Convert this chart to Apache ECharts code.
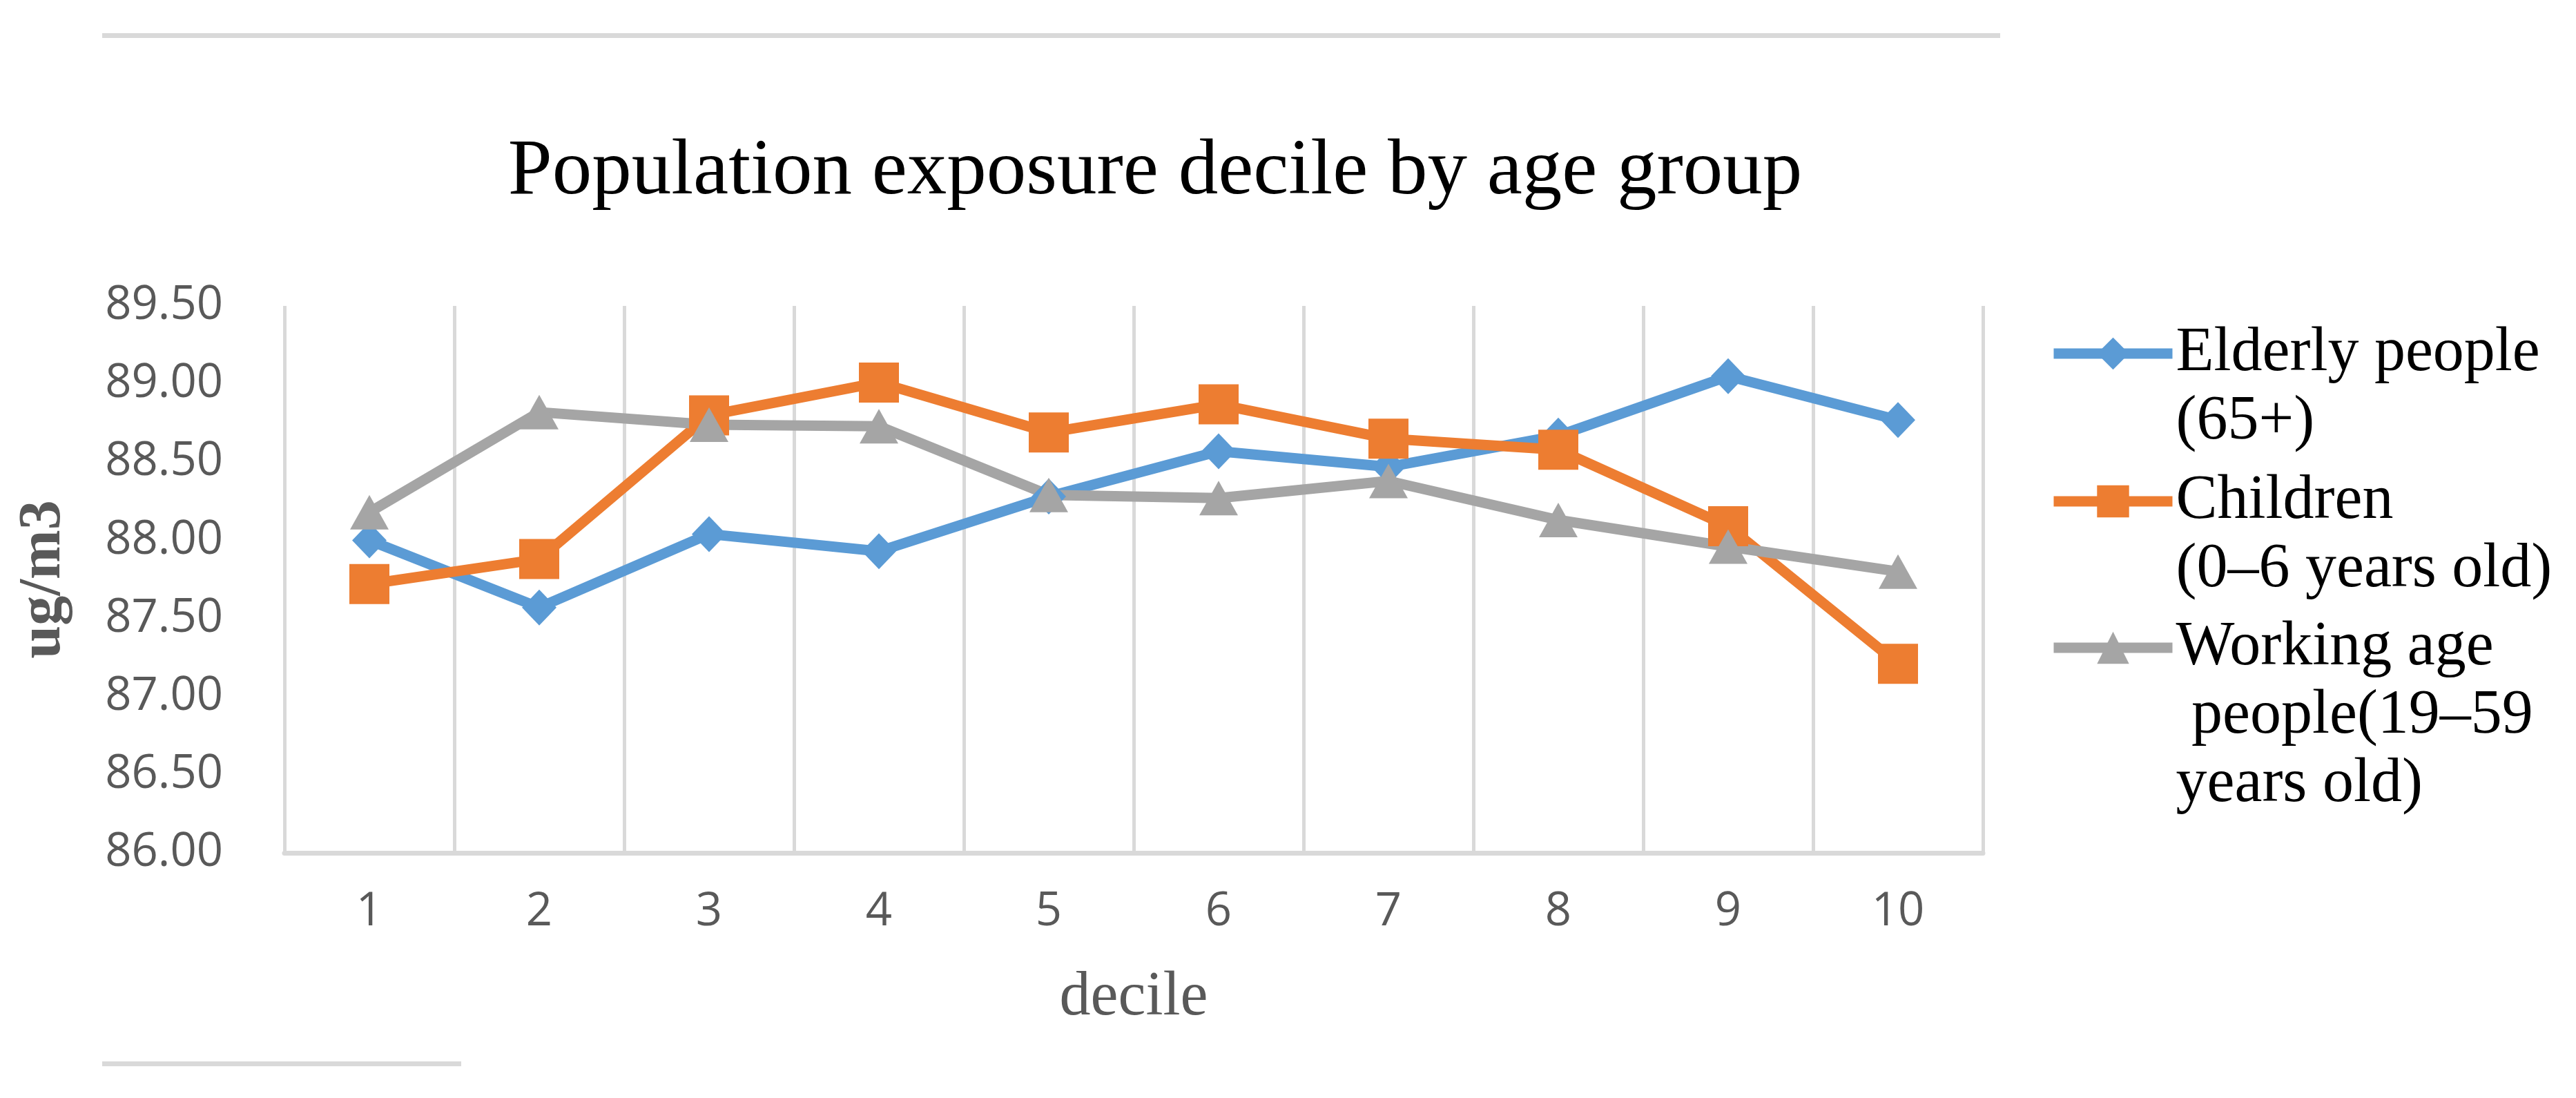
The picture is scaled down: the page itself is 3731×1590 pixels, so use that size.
<!DOCTYPE html>
<html><head><meta charset="utf-8">
<script src="https://cdn.jsdelivr.net/npm/echarts@6/dist/echarts.min.js"></script>
<style>html,body{margin:0;padding:0;background:#fff}#c{width:3731px;height:1590px}</style>
</head><body><div id="c"></div>
<script>
// ---- data ----
const deciles = ['1','2','3','4','5','6','7','8','9','10'];
const elderly  = [88.00, 87.57, 88.04, 87.93, 88.28, 88.57, 88.47, 88.67, 89.05, 88.77];
const children = [87.72, 87.88, 88.80, 89.01, 88.69, 88.87, 88.65, 88.58, 88.09, 87.21];
const working  = [88.18, 88.82, 88.74, 88.73, 88.29, 88.27, 88.38, 88.13, 87.96, 87.80];
const seriesNames = ['Elderly people\n(65+)', 'Children\n(0\u20136 years old)', 'Working age\n people(19\u201359\nyears old)'];
const yMin = 86, yMax = 89.5, yStep = 0.5;

// ---- styling ----
const colors = ['#5B9BD5', '#ED7D31', '#A5A5A5'];
const symbols = ['diamond', 'rect', 'triangle'];
const symbolSizes = [[50, 52], 58, [56, 50]];
const LH = 99;
const legendIconCenters = [512, 726, 938];

function legendFor(i) {
  const lines = seriesNames[i].split('\n').length;
  const blank = '\n'.repeat(lines - 1);
  return {
    show: true, orient: 'vertical', left: 2967,
    top: legendIconCenters[i] - (2 * lines - 1) * LH / 2, padding: 0,
    itemWidth: 172, itemHeight: 58,
    data: [{ name: seriesNames[i] }],
    formatter: name => blank + name,
    lineStyle: { width: 15 },
    textStyle: { fontFamily: 'Liberation Serif', fontSize: 90, color: '#000', lineHeight: LH }
  };
}

const chart = echarts.init(document.getElementById('c'), null, { renderer: 'canvas' });
const dataSets = [elderly, children, working];
chart.setOption({
  animation: false,
  backgroundColor: '#fff',
  title: {
    text: 'Population exposure decile by age group',
    left: 1673, top: 192, padding: 0, textAlign: 'center',
    textStyle: { fontFamily: 'Liberation Serif', fontWeight: 'normal', fontSize: 115, color: '#000' }
  },
  legend: [legendFor(0), legendFor(1), legendFor(2)],
  grid: { left: 412, right: 859, top: 443, bottom: 355, containLabel: false },
  xAxis: {
    type: 'category', data: deciles, boundaryGap: true,
    axisLine: { lineStyle: { color: '#D9D9D9', width: 7 } },
    axisTick: { show: false },
    axisLabel: { fontFamily: 'Open Sans', fontSize: 67, color: '#595959', margin: 52 },
    splitLine: { show: true, lineStyle: { color: '#D9D9D9', width: 5 } },
    name: 'decile', nameLocation: 'middle', nameGap: 165,
    nameTextStyle: { fontFamily: 'Liberation Serif', fontSize: 90, color: '#595959' }
  },
  yAxis: {
    type: 'value', min: yMin, max: yMax, interval: yStep,
    axisLine: { show: false }, axisTick: { show: false }, splitLine: { show: false },
    axisLabel: { formatter: v => v.toFixed(2), fontFamily: 'Open Sans', fontSize: 67, color: '#595959', margin: 89 },
    name: 'ug/m3', nameLocation: 'middle', nameGap: 305, nameRotate: 90,
    nameTextStyle: { fontFamily: 'Liberation Serif', fontWeight: 'bold', fontSize: 86, color: '#595959' }
  },
  series: dataSets.map((d, i) => ({
    type: 'line', name: seriesNames[i], data: d,
    symbol: symbols[i], symbolSize: symbolSizes[i], showAllSymbol: true,
    lineStyle: { width: 15, color: colors[i] },
    itemStyle: { color: colors[i] },
    emphasis: { disabled: true }
  })),
  graphic: [
    { type: 'rect', shape: { x: 148, y: 48, width: 2749, height: 7 }, style: { fill: '#D9D9D9' } },
    { type: 'rect', shape: { x: 148, y: 1537, width: 520, height: 7 }, style: { fill: '#D9D9D9' } }
  ]
});
</script></body></html>
